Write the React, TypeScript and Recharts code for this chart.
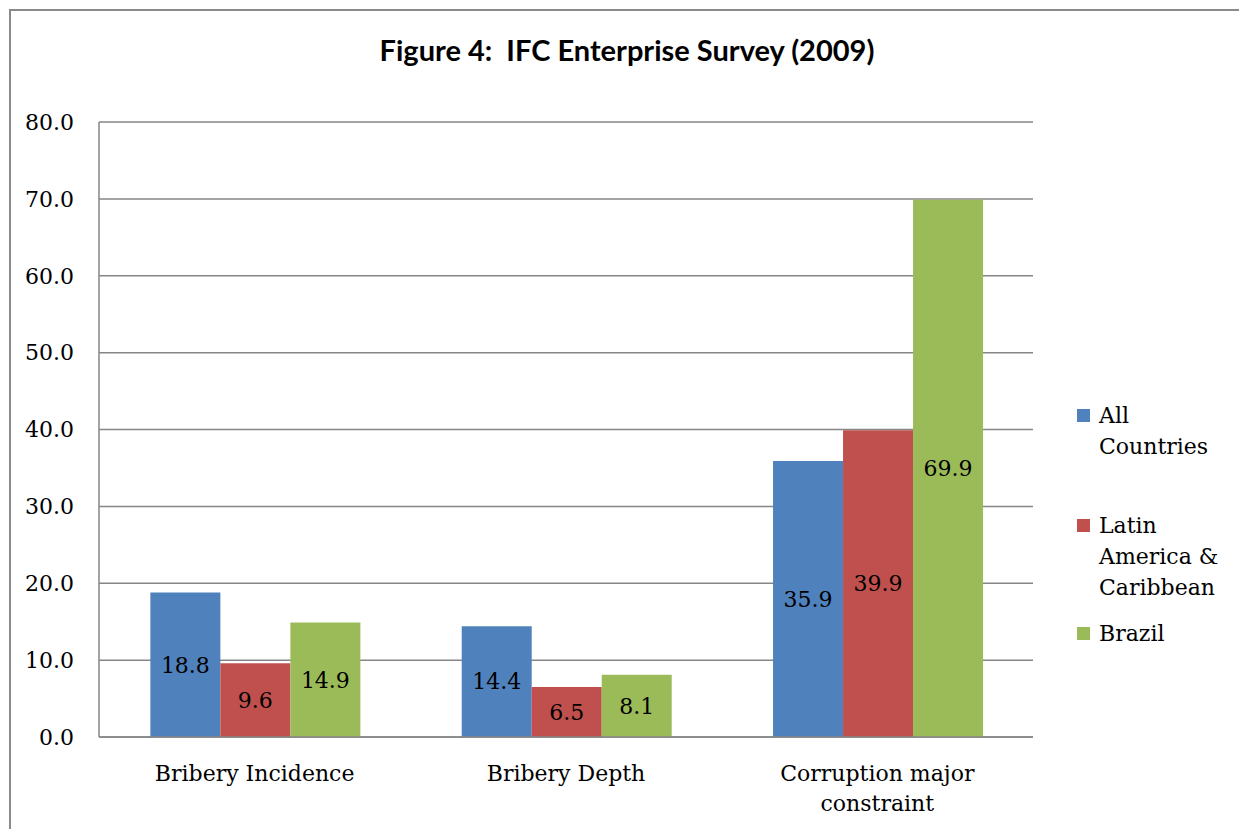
import React from "react";
import { BarChart, Bar, XAxis, YAxis, CartesianGrid, Legend, LabelList } from "recharts";

const categories = ["Bribery Incidence", "Bribery Depth", "Corruption major constraint"];
const allCountries = [18.8, 14.4, 35.9];
const latinAmerica = [9.6, 6.5, 39.9];
const brazil = [14.9, 8.1, 69.9];
const yTicks = [0, 10, 20, 30, 40, 50, 60, 70, 80];

const seriesNames = ["All Countries", "Latin America & Caribbean", "Brazil"];
const legendLines: string[][] = [["All", "Countries"], ["Latin", "America &", "Caribbean"], ["Brazil"]];
const colors = ["#4F81BD", "#C0504D", "#9BBB59"];

const data = categories.map((c, i) => ({
  name: c,
  all: allCountries[i],
  latam: latinAmerica[i],
  brazil: brazil[i],
}));

const SERIF = "'DejaVu Serif', serif";
const GRID = "#868686";
const FS = 22;

const wrapWords = (s: string, maxChars: number) => {
  const words = s.split(" ");
  const lines: string[] = [];
  let cur = "";
  words.forEach((w) => {
    const next = cur ? cur + " " + w : w;
    if (next.length > maxChars && cur) {
      lines.push(cur);
      cur = w;
    } else cur = next;
  });
  if (cur) lines.push(cur);
  return lines;
};

const CategoryTick = (props: any) => {
  const { x, y, payload } = props;
  const lines = wrapWords(String(payload.value), 18);
  return (
    <text x={x} y={y + 36} textAnchor="middle" fontFamily={SERIF} fontSize={FS} fill="#000">
      {lines.map((l, i) => (
        <tspan key={i} x={x} dy={i === 0 ? 0 : 30}>
          {l}
        </tspan>
      ))}
    </text>
  );
};

const LegendContent = () => (
  <div style={{ fontFamily: SERIF, fontSize: FS, color: "#000" }}>
    {seriesNames.map((n, i) => (
      <div key={n} style={{ display: "flex", alignItems: "flex-start", marginBottom: i === 0 ? 48 : 15 }}>
        <div style={{ width: 13, height: 13, background: colors[i], marginTop: 9, marginRight: 9 }} />
        <div style={{ lineHeight: "31px" }}>
          {legendLines[i].map((l) => (
            <div key={l}>{l}</div>
          ))}
        </div>
      </div>
    ))}
  </div>
);

const fmt = (v: any) => Number(v).toFixed(1);

export default function App() {
  return (
    <div style={{ position: "absolute", left: 0, top: 0, width: 1239, height: 829, background: "#fff", overflow: "hidden" }}>
      <div style={{ position: "absolute", left: 9, top: 9, width: 1400, height: 1000, border: "2px solid #8a8a8a" }} />
      <div
        style={{
          position: "absolute",
          left: 0,
          width: 1254,
          top: 33,
          textAlign: "center",
          fontFamily: "Lato, sans-serif",
          fontWeight: 700,
          fontSize: 29,
          lineHeight: "34px",
          color: "#000",
        }}
      >
        Figure 4:&nbsp; IFC Enterprise Survey (2009)
      </div>
      <div style={{ position: "absolute", left: 0, top: 0 }}>
        <BarChart
          width={1239}
          height={829}
          data={data}
          margin={{ top: 122, right: 206, bottom: 32, left: 10 }}
          barCategoryGap="16.5%"
          barGap={0}
        >
          <CartesianGrid vertical={false} stroke={GRID} strokeWidth={1.5} />
          <XAxis
            dataKey="name"
            tickLine={false}
            axisLine={{ stroke: GRID, strokeWidth: 1.5 }}
            tick={<CategoryTick />}
            interval={0}
            height={60}
          />
          <YAxis
            domain={[0, 80]}
            ticks={yTicks}
            tickFormatter={(v: number) => v.toFixed(1)}
            tickLine={false}
            axisLine={{ stroke: GRID, strokeWidth: 1.5 }}
            tick={{ fontFamily: SERIF, fontSize: FS, fill: "#000" }}
            tickMargin={19}
            width={89}
            interval={0}
          />
          <Legend
            layout="vertical"
            verticalAlign="middle"
            align="center"
            content={<LegendContent />}
            wrapperStyle={{ position: "absolute", left: 1077, top: 400, width: 160 }}
          />
          <Bar dataKey="all" name={seriesNames[0]} fill={colors[0]} isAnimationActive={false}>
            <LabelList dataKey="all" position="center" fill="#000" fontFamily={SERIF} fontSize={FS} formatter={fmt} />
          </Bar>
          <Bar dataKey="latam" name={seriesNames[1]} fill={colors[1]} isAnimationActive={false}>
            <LabelList dataKey="latam" position="center" fill="#000" fontFamily={SERIF} fontSize={FS} formatter={fmt} />
          </Bar>
          <Bar dataKey="brazil" name={seriesNames[2]} fill={colors[2]} isAnimationActive={false}>
            <LabelList dataKey="brazil" position="center" fill="#000" fontFamily={SERIF} fontSize={FS} formatter={fmt} />
          </Bar>
        </BarChart>
      </div>
    </div>
  );
}
